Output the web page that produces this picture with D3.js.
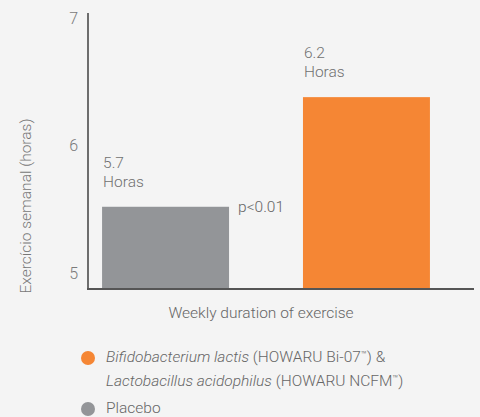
<!DOCTYPE html>
<html>
<head>
<meta charset="utf-8">
<script src="https://cdn.jsdelivr.net/npm/d3@7"></script>
<style>
  html, body { margin: 0; padding: 0; background: #f4f4f4; }
  svg { display: block; font-family: Roboto, "Liberation Sans", Arial, sans-serif; font-weight: 300; }
</style>
</head>
<body>
<svg id="chart" width="480" height="417"></svg>
<script>
// Data
const categories = ["Placebo", "Probiotic"];
const barValues = [5.52, 6.38];          // bar heights as drawn against the axis
const valueLabels = ["5.7", "6.2"];     // printed labels
const unitLabel = "Horas";
const barColors = ["#939598", "#f58634"];
const yTicks = [5, 6, 7];
const yTitle = "Exercício semanal (horas)";
const xTitle = "Weekly duration of exercise";
const pValue = "p<0.01";

(function () {
const svg = d3.select("#chart");
const mLeft = 88, mRight = 474, mTop = 13, mBottom = 289;
const FONT = "Roboto, 'Liberation Sans', Arial, sans-serif";
const FS = 15.5;

const y = d3.scaleLinear().domain([4.875, 7.04]).range([mBottom, mTop]);
const x = d3.scaleBand().domain(categories).range([mLeft, 444])
  .paddingInner(0.368).paddingOuter(0.07);

// bars
svg.selectAll("rect.bar").data(categories).enter().append("rect")
  .attr("class", "bar")
  .attr("x", d => x(d))
  .attr("width", x.bandwidth())
  .attr("y", (d, i) => y(barValues[i]))
  .attr("height", (d, i) => mBottom - y(barValues[i]))
  .attr("fill", (d, i) => barColors[i]);

// y axis ticks
const yAxis = d3.axisLeft(y).tickValues(yTicks).tickSize(0).tickPadding(10).tickFormat(d3.format("d"));
const gy = svg.append("g").attr("transform", `translate(${mLeft},0)`).call(yAxis);
gy.select(".domain").remove();
gy.selectAll("text").attr("font-size", 16).attr("fill", "#7a7a7a")
  .attr("font-family", FONT).attr("font-weight", 300);

// axis lines
svg.append("line").attr("x1", mLeft).attr("x2", mLeft).attr("y1", mTop).attr("y2", mBottom + 1)
  .attr("stroke", "#6d6d6d").attr("stroke-width", 2);
svg.append("line").attr("x1", mLeft - 1).attr("x2", mRight).attr("y1", mBottom).attr("y2", mBottom)
  .attr("stroke", "#555555").attr("stroke-width", 2);

// value labels
categories.forEach((c, i) => {
  const top0 = y(barValues[i]);
  const g = svg.append("text").attr("x", x(c) + 1).attr("font-size", FS).attr("fill", "#707070");
  g.append("tspan").attr("x", x(c) + 1).attr("y", top0 - 39).text(valueLabels[i]);
  g.append("tspan").attr("x", x(c) + 1).attr("y", top0 - 20).text(unitLabel);
});

// p value
svg.append("text").attr("x", x(categories[0]) + x.bandwidth() + 9).attr("y", y(barValues[0]) + 5)
  .attr("font-size", FS).attr("fill", "#666").text(pValue);

// y title
svg.append("text").attr("transform", `translate(31,${(122 + 290) / 2}) rotate(-90)`)
  .attr("text-anchor", "middle").attr("font-size", FS).attr("fill", "#777").text(yTitle);

// x title
svg.append("text").attr("x", 261).attr("y", 318).attr("text-anchor", "middle")
  .attr("font-size", FS).attr("fill", "#666").text(xTitle);

// legend
const legend = svg.append("g");
legend.append("circle").attr("cx", 88).attr("cy", 358).attr("r", 7).attr("fill", barColors[1]);
const t1 = legend.append("text").attr("x", 106).attr("y", 362).attr("font-size", FS).attr("fill", "#666");
t1.append("tspan").attr("font-style", "italic").text("Bifidobacterium lactis");
t1.append("tspan").text(" (HOWARU Bi-07");
t1.append("tspan").attr("font-size", 9.5).attr("dy", -4).text("™");
t1.append("tspan").attr("dy", 4).text(") &");
const t2 = legend.append("text").attr("x", 106).attr("y", 386).attr("font-size", FS).attr("fill", "#666");
t2.append("tspan").attr("font-style", "italic").text("Lactobacillus acidophilus");
t2.append("tspan").text(" (HOWARU NCFM");
t2.append("tspan").attr("font-size", 9.5).attr("dy", -4).text("™");
t2.append("tspan").attr("dy", 4).text(")");
legend.append("circle").attr("cx", 88).attr("cy", 409).attr("r", 7).attr("fill", barColors[0]);
legend.append("text").attr("x", 106).attr("y", 413).attr("font-size", FS).attr("fill", "#666").text("Placebo");
})();
</script>
</body>
</html>
